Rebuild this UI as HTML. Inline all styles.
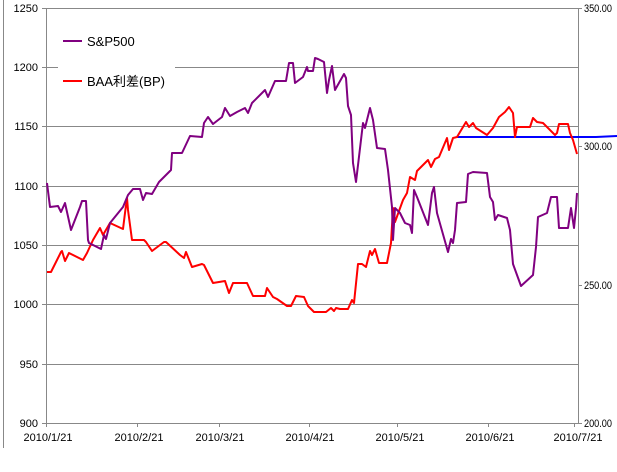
<!DOCTYPE html>
<html><head><meta charset="utf-8"><style>
body{margin:0;background:#fff}
svg{display:block}
text{font-family:"Liberation Sans","Noto Sans CJK SC",sans-serif;font-size:11px;fill:#000}
</style></head><body>
<svg width="617" height="472" viewBox="0 0 617 472">
<line x1="3.5" y1="0" x2="3.5" y2="448" stroke="#888"/>
<g stroke="#888" stroke-width="1">
<line x1="46" y1="8.5" x2="578" y2="8.5"/>
<line x1="46" y1="67.5" x2="578" y2="67.5"/>
<line x1="46" y1="126.5" x2="578" y2="126.5"/>
<line x1="46" y1="186.5" x2="578" y2="186.5"/>
<line x1="46" y1="245.5" x2="578" y2="245.5"/>
<line x1="46" y1="304.5" x2="578" y2="304.5"/>
<line x1="46" y1="364.5" x2="578" y2="364.5"/>
<line x1="46.5" y1="8" x2="46.5" y2="424"/>
<line x1="578.5" y1="8" x2="578.5" y2="424"/>
<line x1="46" y1="423.5" x2="578" y2="423.5"/>
<g>
<line x1="42" y1="8.5" x2="46" y2="8.5"/><line x1="42" y1="67.5" x2="46" y2="67.5"/><line x1="42" y1="126.5" x2="46" y2="126.5"/><line x1="42" y1="186.5" x2="46" y2="186.5"/><line x1="42" y1="245.5" x2="46" y2="245.5"/><line x1="42" y1="304.5" x2="46" y2="304.5"/><line x1="42" y1="364.5" x2="46" y2="364.5"/><line x1="42" y1="423.5" x2="46" y2="423.5"/>
<line x1="578" y1="8.5" x2="582" y2="8.5"/><line x1="578" y1="146.5" x2="582" y2="146.5"/><line x1="578" y1="285.5" x2="582" y2="285.5"/><line x1="578" y1="423.5" x2="582" y2="423.5"/>
<line x1="46.5" y1="423" x2="46.5" y2="427"/><line x1="137.5" y1="423" x2="137.5" y2="427"/><line x1="219.5" y1="423" x2="219.5" y2="427"/><line x1="309.5" y1="423" x2="309.5" y2="427"/><line x1="397.5" y1="423" x2="397.5" y2="427"/><line x1="488.5" y1="423" x2="488.5" y2="427"/><line x1="574.5" y1="423" x2="574.5" y2="427"/>
</g></g>
<g text-anchor="end">
<text x="38" y="12">1250</text><text x="38" y="71">1200</text><text x="38" y="130">1150</text><text x="38" y="190">1100</text><text x="38" y="249">1050</text><text x="38" y="308">1000</text><text x="38" y="368">950</text><text x="38" y="427">900</text>
</g>
<g style="font-size:10px">
<text x="584" y="12" textLength="28" lengthAdjust="spacingAndGlyphs">350.00</text><text x="584" y="150" textLength="28" lengthAdjust="spacingAndGlyphs">300.00</text><text x="584" y="289" textLength="28" lengthAdjust="spacingAndGlyphs">250.00</text><text x="584" y="427" textLength="28" lengthAdjust="spacingAndGlyphs">200.00</text>
</g>
<g text-anchor="middle">
<text x="48" y="441">2010/1/21</text><text x="139" y="441">2010/2/21</text><text x="220" y="441">2010/3/21</text><text x="310" y="441">2010/4/21</text><text x="400" y="441">2010/5/21</text><text x="490" y="441">2010/6/21</text><text x="578" y="441">2010/7/21</text>
</g>
<rect x="58" y="25" width="117" height="73" fill="#fff"/>
<line x1="63" y1="41" x2="82" y2="41" stroke="#800080" stroke-width="2"/>
<text x="87" y="46" style="font-size:13px">S&amp;P500</text>
<line x1="63" y1="81" x2="82" y2="81" stroke="#f00" stroke-width="2"/>
<text x="87" y="86" style="font-size:13px">BAA利差(BP)</text>
<polyline fill="none" stroke="#00f" stroke-width="2" points="457,137 596,137 617,136"/>
<polyline fill="none" stroke="#f00" stroke-width="2" stroke-linejoin="round" points="47,272 51,272 61,252 62,251 65,261 69,253 81,259 83,260 87,253 93,240 100,228 103,235 110,223 123,229 125,213 127,198 128,210 132,240 144,240 146,242 152,251 164,242 166,242 180,255 184,258 186,252 192,267 202,264 204,265 213,283 225,281 229,293 233,283 247,283 253,296 265,296 267,288 273,297 277,299 287,306 291,306 296,296 304,297 308,306 314,312 326,312 331,308 334,311 336,308 340,309 348,309 352,300 354,303 358,264 362,264 366,267 370,251 372,255 375,249 379,263 387,263 391,243 393,208 395,222 403,200 407,193 410,177 415,180 417,171 428,160 431,167 435,159 439,157 447,138 449,150 453,138 457,137 466,122 469,127 473,123 476,128 487,135 493,128 499,117 505,112 509,107 513,113 515,137 517,127 523,127 530,127 533,118 537,122 543,123 555,135 557,133 559,124 568,124 570,133 573,140 575,147 577,154"/>
<polyline fill="none" stroke="#800080" stroke-width="2" stroke-linejoin="round" points="47,183 50,207 58,206 61,212 65,203 71,230 80,207 82,201 86,201 88,240 89,243 101,249 104,235 106,239 110,223 123,207 128,195 133,189 140,189 143,200 146,193 152,194 159,182 168,173 171,170 172,153 182,153 190,136 202,137 204,123 208,117 213,124 222,117 225,108 230,116 237,112 245,108 248,113 252,103 265,90 268,97 275,81 286,81 289,63 293,63 295,83 303,77 307,67 308,71 313,71 315,58 318,59 324,62 327,93 329,80 332,66 335,90 344,74 346,78 348,106 351,115 353,163 356,182 363,123 365,128 370,108 373,120 377,148 385,149 388,170 392,207 393,240 395,208 400,213 405,223 410,225 412,233 414,190 417,197 428,225 432,193 434,187 437,213 448,252 451,239 453,243 455,230 457,203 466,202 468,174 473,172 487,173 490,197 493,202 495,220 498,215 507,218 510,230 513,264 521,286 533,275 536,247 538,217 547,213 551,197 557,197 559,228 568,228 571,208 574,228 576,208 577,193"/>
</svg>
</body></html>
